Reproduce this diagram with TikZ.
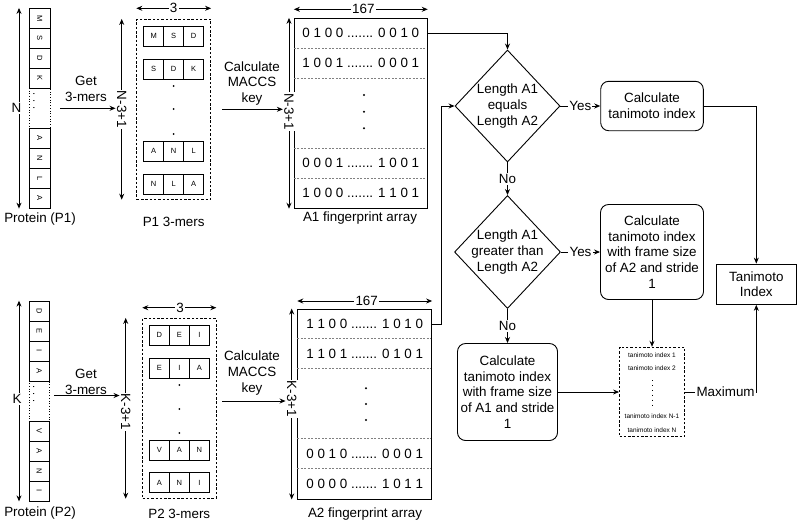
\documentclass[tikz,border=0pt]{standalone}
\usepackage{fontspec}
\setmainfont{Liberation Sans}
\usetikzlibrary{arrows.meta,shapes.geometric,calc}
\begin{document}
\begin{tikzpicture}[x=1pt,y=-1pt,
  tip/.tip={Stealth[length=6pt,width=5pt]},
  arr/.style={line width=0.9pt,-tip},
  dimarr/.style={line width=0.9pt,tip-tip},
  txt/.style={font=\fontsize{13.4}{15.8}\selectfont, inner sep=0pt, align=center},
  onl/.style={txt, fill=white, inner sep=1.2pt},
  aa/.style={draw, line width=0.7pt, rotate=-90, minimum width=20pt, minimum height=20.7pt, inner sep=0pt, font=\fontsize{7.5}{9}\selectfont},
  gapcell/.style={draw, dotted, line width=0.7pt, minimum width=20.7pt, minimum height=40pt, inner sep=0pt},
  gapdots/.style={rotate=-90, inner sep=0pt, font=\fontsize{11}{12}\selectfont},
  kc/.style={draw, line width=0.7pt, minimum width=20pt, minimum height=20pt, inner sep=0pt, font=\fontsize{7.5}{9}\selectfont},
  dbox/.style={draw, dashed, dash pattern=on 2.5pt off 1.8pt, line width=0.8pt, inner sep=0pt},
  fbox/.style={draw, line width=0.9pt, inner sep=0pt},
  sep/.style={draw=gray, dashed, dash pattern=on 2pt off 1.5pt, line width=0.7pt},
  bits/.style={font=\fontsize{13.4}{15.8}\selectfont, inner sep=0pt},
  rbox/.style={draw, line width=0.9pt, rounded corners=8pt, inner sep=0pt, align=center, font=\fontsize{13.4}{15.8}\selectfont},
  sbox/.style={draw, line width=0.9pt, inner sep=0pt, align=center, font=\fontsize{13.4}{15.8}\selectfont},
  dia/.style={draw, diamond, aspect=1, line width=0.9pt, inner sep=0pt},
  tinyt/.style={font=\fontsize{6.5}{7.5}\selectfont, inner sep=0pt}
]
\useasboundingbox (0,0) rectangle (797,523);

% ---------------- Protein P1 ----------------
\foreach \l/\y [count=\i] in {M/18.3,S/38.3,D/58.3,K/78.3,A/138.3,N/158.3,L/178.3,A/198.3}
  \node[aa] (p1c\i) at (39.7,\y) {\l};
\node[gapcell] (p1gap) at (39.7,108.3) {};
\node[gapdots] (p1gd) at (34,101) {. . .};
\coordinate (p1dx) at (19,0);
\draw[dimarr] (p1c1.west -| p1dx) -- (p1c8.east -| p1dx);
\node[onl] (p1N) at (16.5,108.3) {N};
\node[txt] (p1lbl) at (40,219.5) {Protein (P1)};

% P1 3-mers
\node[dbox, minimum width=74pt, minimum height=180pt] (p1k) at (173.7,109.3) {};
\foreach \a/\b/\c/\y/\r in {M/S/D/36/1,S/D/K/69.3/2,A/N/L/151/3,N/L/A/184.2/4}{
  \node[kc] (p1r\r-a) at (153.7,\y) {\a};
  \node[kc] (p1r\r-b) at (173.7,\y) {\b};
  \node[kc] (p1r\r-c) at (193.7,\y) {\c};
}
\foreach \y in {86,109,134} \fill (173.7,\y) circle (1pt);
\coordinate (p1kx) at (121.7,0);
\coordinate (p1ky) at (0,8.3);
\draw[dimarr] (p1k.north -| p1kx) -- (p1k.south -| p1kx);
\node[onl, rotate=-90] (p1n31) at (121.7,109.3) {N-3+1};
\draw[dimarr] (p1k.west |- p1ky) -- (p1k.east |- p1ky);
\node[onl] (p1k3) at (p1k.north |- p1ky) {3};
\node[txt] (p1klbl) at (173.7,222) {P1 3-mers};

\draw[arr] ([xshift=10pt]p1gap.east) -- (p1gap.east -| p1n31.south);
\node[txt] (p1get) at (86,89) {Get\\3-mers};

% A1 fingerprint
\node[fbox, minimum width=133pt, minimum height=190pt] (a1) at (360.8,113.3) {};
\foreach \d in {30,60,130,160} \draw[sep] (a1.north west) ++(0,\d) -- ++(133,0);
\node[bits] (a1r1) at (360.8,33.3) {0 1 0 0 ....... 0 0 1 0};
\node[bits] (a1r2) at (360.8,63.3) {1 0 0 1 ....... 0 0 0 1};
\node[bits] (a1r3) at (360.8,163.3) {0 0 0 1 ....... 1 0 0 1};
\node[bits] (a1r4) at (360.8,193.3) {1 0 0 0 ....... 1 1 0 1};
\foreach \y in {95,111.7,128.3} \fill (364,\y) circle (1.1pt);
\coordinate (a1x) at (289,0);
\coordinate (a1y) at (0,9.3);
\draw[dimarr] (a1.north -| a1x) -- (a1.south -| a1x);
\node[onl, rotate=-90] (a1n31) at (289,111.7) {N-3+1};
\draw[dimarr] (a1.west |- a1y) -- (a1.east |- a1y);
\node[onl] (a1w) at (363.3,9.3) {167};
\node[txt] (a1lbl) at (360,218.5) {A1 fingerprint array};

\draw[arr] ([xshift=11pt]p1k.east) -- (p1k.east -| a1n31.south);
\node[txt] (p1mac) at (252,83.5) {Calculate\\MACCS\\key};

% ---------------- Protein P2 ----------------
\foreach \l/\y [count=\i] in {D/311,E/331,I/351,A/371,V/431,A/451,N/471,I/491}
  \node[aa] (p2c\i) at (39.3,\y) {\l};
\node[gapcell] (p2gap) at (39.3,401) {};
\node[gapdots] (p2gd) at (33.6,393.7) {. . .};
\coordinate (p2dx) at (19,0);
\draw[dimarr] (p2c1.west -| p2dx) -- (p2c8.east -| p2dx);
\node[onl] (p2K) at (17,399) {K};
\node[txt] (p2lbl) at (40,513.5) {Protein (P2)};

% P2 3-mers
\node[dbox, minimum width=73.3pt, minimum height=180pt] (p2k) at (179.3,408.3) {};
\foreach \a/\b/\c/\y/\r in {D/E/I/335/1,E/I/A/368.3/2,V/A/N/450/3,A/N/I/482.7/4}{
  \node[kc] (p2r\r-a) at (159.3,\y) {\a};
  \node[kc] (p2r\r-b) at (179.3,\y) {\b};
  \node[kc] (p2r\r-c) at (199.3,\y) {\c};
}
\foreach \y in {385,409,433} \fill (179.3,\y) circle (1pt);
\coordinate (p2kx) at (125.7,0);
\coordinate (p2ky) at (0,307.7);
\draw[dimarr] (p2k.north -| p2kx) -- (p2k.south -| p2kx);
\node[onl, rotate=-90] (p2k31) at (125.7,412) {K-3+1};
\draw[dimarr] (p2k.west |- p2ky) -- (p2k.east |- p2ky);
\node[onl] (p2k3) at (180,307.7) {3};
\node[txt] (p2klbl) at (179.3,514) {P2 3-mers};

\coordinate (p2ay) at (0,395.5);
\draw[arr] ([xshift=4pt]p2gap.east |- p2ay) -- (p2k31.south |- p2ay);
\node[txt] (p2get) at (86,381.5) {Get\\3-mers};

% A2 fingerprint
\node[fbox, minimum width=134pt, minimum height=190pt] (a2) at (364.7,404) {};
\foreach \d in {30,60,130,160} \draw[sep] (a2.north west) ++(0,\d) -- ++(134,0);
\node[bits] (a2r1) at (364.7,324) {1 1 0 0 ....... 1 0 1 0};
\node[bits] (a2r2) at (364.7,354) {1 1 0 1 ....... 0 1 0 1};
\node[bits] (a2r3) at (364.7,454) {0 0 1 0 ....... 0 0 0 1};
\node[bits] (a2r4) at (364.7,484) {0 0 0 0 ....... 1 0 1 1};
\foreach \y in {388.3,404,420} \fill (366,\y) circle (1.1pt);
\coordinate (a2x) at (291.7,0);
\coordinate (a2y) at (0,301);
\draw[dimarr] (a2.north -| a2x) -- (a2.south -| a2x);
\node[onl, rotate=-90] (a2k31) at (291.7,399) {K-3+1};
\draw[dimarr] (a2.west |- a2y) -- (a2.east |- a2y);
\node[onl] (a2w) at (366.7,301) {167};
\node[txt] (a2lbl) at (365,514) {A2 fingerprint array};

\coordinate (p2my) at (0,401);
\draw[arr] ([xshift=6pt]p2k.east |- p2my) -- (a2k31.south |- p2my);
\node[txt] (p2mac) at (252,373) {Calculate\\MACCS\\key};

% ---------------- Decision flow ----------------
\node[dia, minimum width=105pt, minimum height=112pt] (d1) at (507.5,106) {};
\node[txt] (d1t) at (d1) {Length A1\\equals\\Length A2};
\node[dia, minimum width=106pt, minimum height=113pt] (d2) at (507.5,252) {};
\node[txt] (d2t) at (d2) {Length A1\\greater than\\Length A2};
\node[rbox, minimum width=102.6pt, minimum height=49.4pt] (b1) at (652,106) {Calculate\\tanimoto index};
\node[rbox, minimum width=103pt, minimum height=95pt] (b2) at (652,252) {Calculate\\tanimoto index\\with frame size\\of A2 and stride\\1};
\node[rbox, minimum width=100pt, minimum height=97pt] (b3) at (507.5,392) {Calculate\\tanimoto index\\with frame size\\of A1 and stride\\1};
\node[sbox, minimum width=80pt, minimum height=40.3pt] (ti) at (756.3,284.2) {Tanimoto\\Index};
\node[dbox, minimum width=65pt, minimum height=89.6pt] (lst) at (652,392) {};
\node[tinyt] (l1) at (652,355) {tanimoto index 1};
\node[tinyt] (l2) at (652,368.3) {tanimoto index 2};
\node[tinyt] (l3) at (652,416) {tanimoto index N-1};
\node[tinyt] (l4) at (652,430) {tanimoto index N};
\draw[line width=0.7pt, dash pattern=on 0.9pt off 4pt] (652,380) -- (652,407);

\draw[arr] (a1r1 -| a1.east) -| (d1.north);
\draw[arr] (a2r1 -| a2.east) -- ++(9.5,0) |- (d1.west);
\draw[arr] (d1.east) -- node[onl]{Yes} (b1.west);
\draw[arr] (d1.south) -- node[onl]{No} (d2.north);
\draw[arr] (d2.east) -- node[onl]{Yes} (b2.west);
\draw[arr] (d2.south) -- node[onl]{No} (b3.north);
\draw[arr] (b3.east) -- (lst.west);
\draw[arr] (b2.south) -- (lst.north);
\draw[arr] (b1.east) -| (ti.north);
\draw[arr] (lst.east) -- node[onl, pos=0.57]{Maximum} (lst.east -| ti.south) -- (ti.south);
\end{tikzpicture}
\end{document}
